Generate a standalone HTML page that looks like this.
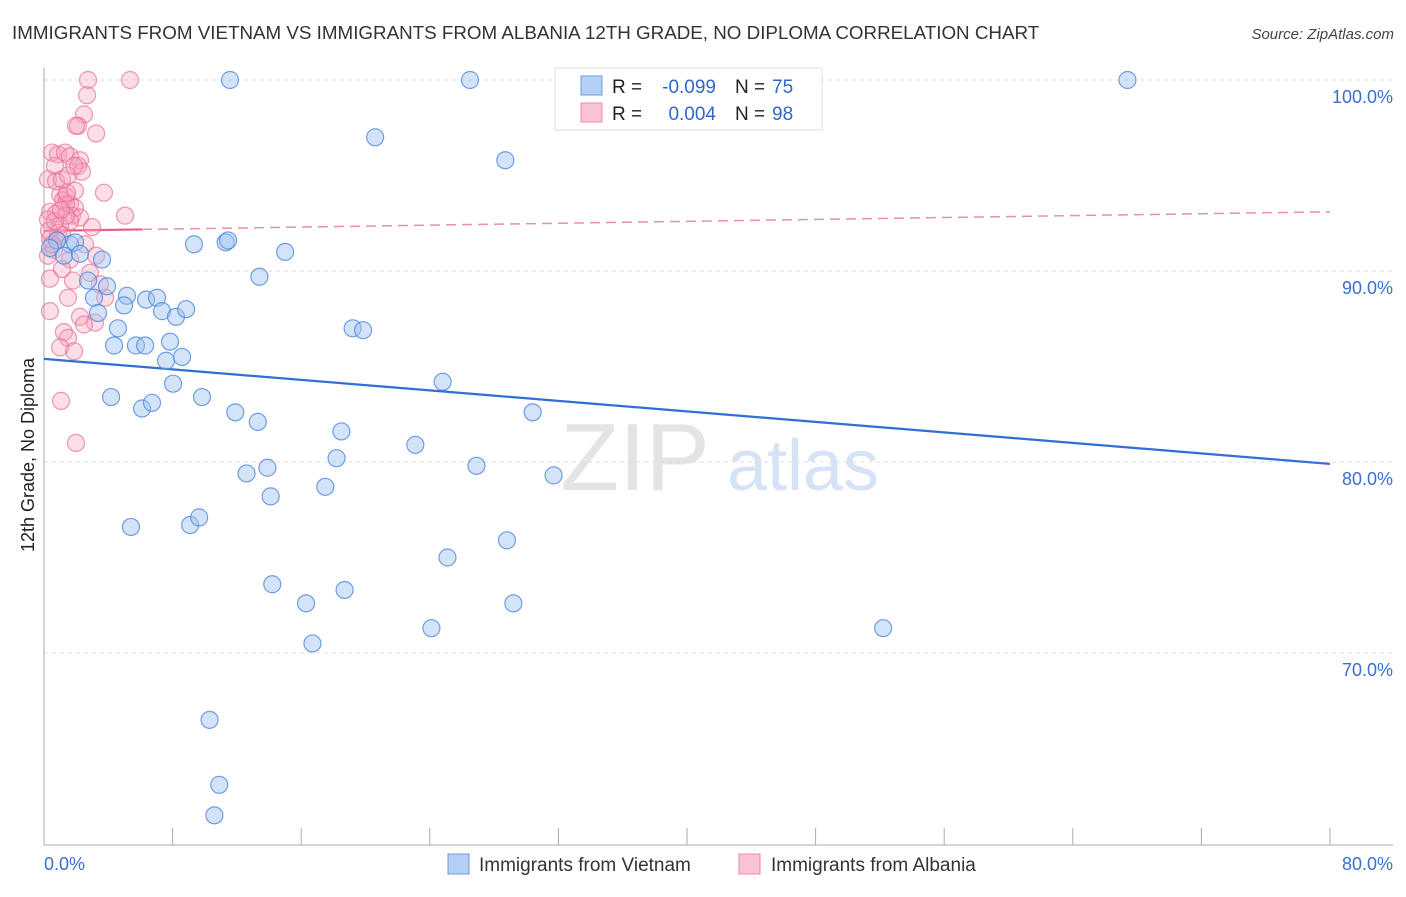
<!DOCTYPE html>
<html><head><meta charset="utf-8"><style>
body{margin:0;background:#fff;font-family:"Liberation Sans",sans-serif;}
svg text{font-family:"Liberation Sans",sans-serif;}
</style></head><body>
<svg id="chart" width="1406" height="892" xmlns="http://www.w3.org/2000/svg">
<text x="12" y="39" font-size="18.8" fill="#333">IMMIGRANTS FROM VIETNAM VS IMMIGRANTS FROM ALBANIA 12TH GRADE, NO DIPLOMA CORRELATION CHART</text>
<text x="1394" y="39" font-size="15" fill="#444" text-anchor="end" font-style="italic">Source: ZipAtlas.com</text>
<text transform="translate(34,455) rotate(-90)" font-size="18" fill="#222" text-anchor="middle">12th Grade, No Diploma</text>
<g>
<text x="635" y="490" font-size="96" fill="#e4e4e4" text-anchor="middle" font-family="Liberation Serif">ZIP</text>
<text x="803" y="490" font-size="72" fill="#d6e3f5" text-anchor="middle">atlas</text>
</g>
<g id="grid"></g><g id="axes"></g><g id="trends"></g><g id="pts"></g>
<g>
<rect x="555" y="68" width="267" height="62" fill="#fff" stroke="#ddd"/>
<rect x="581" y="76" width="21" height="19" fill="#b5d0f5" stroke="#6f9be0"/>
<rect x="581" y="103" width="21" height="19" fill="#fac3d3" stroke="#ec8aa8"/>
<text x="612" y="93" font-size="19" fill="#222">R =</text>
<text x="716" y="93" font-size="19" fill="#2f67c9" text-anchor="end">-0.099</text>
<text x="735" y="93" font-size="19" fill="#222">N =</text>
<text x="772" y="93" font-size="19" fill="#2f67c9">75</text>
<text x="612" y="120" font-size="19" fill="#222">R =</text>
<text x="716" y="120" font-size="19" fill="#2f67c9" text-anchor="end">0.004</text>
<text x="735" y="120" font-size="19" fill="#222">N =</text>
<text x="772" y="120" font-size="19" fill="#2f67c9">98</text>
</g>
<g>
<rect x="448" y="854" width="21" height="20" fill="#b5d0f5" stroke="#6f9be0"/>
<text x="479" y="871" font-size="19" fill="#333">Immigrants from Vietnam</text>
<rect x="739" y="854" width="21" height="20" fill="#fac3d3" stroke="#ec8aa8"/>
<text x="771" y="871" font-size="19" fill="#333">Immigrants from Albania</text>
</g>
</svg>
<script>
const xTicks=[0,8,16,24,32,40,48,56,64,72,80];
const yTicks=[100,90,80,70];
const yTickLabels=["100.0%","90.0%","80.0%","70.0%"];
const xEndLabels=["0.0%","80.0%"];
const vietX=[11.57,26.5,67.4,43.3,20.6,28.7,9.33,11.3,11.45,15.0,13.4,1.62,1.93,0.81,0.37,1.24,2.24,3.61,2.74,3.92,3.11,5.16,4.98,6.35,7.03,7.34,8.21,8.84,4.6,3.36,4.36,5.72,6.29,7.84,7.59,8.59,19.2,19.85,8.03,4.17,6.1,6.72,9.83,11.9,13.3,18.5,23.1,24.8,30.4,18.2,13.9,12.6,26.9,31.7,14.1,17.5,5.41,9.09,9.65,25.1,28.8,14.2,16.3,18.7,29.2,24.1,16.7,52.2,10.3,10.9,10.6];
const vietY=[100,100,100,100,97.0,95.8,91.4,91.5,91.6,91.0,89.7,91.4,91.5,91.6,91.2,90.8,90.9,90.6,89.5,89.2,88.6,88.7,88.2,88.5,88.6,87.9,87.6,88.0,87.0,87.8,86.1,86.1,86.1,86.3,85.3,85.5,87.0,86.9,84.1,83.4,82.8,83.1,83.4,82.6,82.1,81.6,80.9,84.2,82.6,80.2,79.7,79.4,79.8,79.3,78.2,78.7,76.6,76.7,77.1,75.0,75.9,73.6,72.6,73.3,72.6,71.3,70.5,71.3,66.5,63.1,61.5];
const albX=[2.74,5.35,2.68,2.49,2.12,1.99,3.24,0.5,0.87,1.31,1.62,2.24,2.12,0.68,2.36,0.25,0.75,3.73,1.0,1.37,1.18,1.62,1.93,1.37,0.37,0.75,1.74,2.24,5.04,0.25,1.0,1.62,2.99,0.87,0.37,1.12,2.55,0.62,0.25,1.62,3.24,1.12,2.86,0.37,1.8,3.48,1.49,3.8,0.37,2.24,3.17,2.49,1.24,1.49,1.0,1.87,1.06,1.99,1.37,1.93,1.43,1.12,0.81,0.5,0.31,0.68,1.06,1.49,1.87];
const albY=[100,100,99.2,98.2,97.6,97.6,97.2,96.2,96.1,96.2,96.0,95.8,95.5,95.5,95.2,94.8,94.7,94.1,94.0,93.9,93.7,93.5,93.3,93.5,93.1,93.0,92.9,92.8,92.9,92.7,92.4,92.6,92.3,92.0,91.7,91.9,91.4,91.1,90.8,90.6,90.8,90.1,89.9,89.6,89.5,89.3,88.6,88.6,87.9,87.6,87.3,87.2,86.8,86.5,86.0,85.8,83.2,81.0,92.9,94.2,94.1,94.8,91.6,91.4,92.1,92.6,93.2,95.0,95.5];
const vietTrend=[85.4,79.9];
const albTrend=[92.1,93.1];
const albSolidEnd=6.1;

const NS="http://www.w3.org/2000/svg";
const X=v=>44+v*(1286/80);
const Y=v=>80+(100-v)*19.1;
function mk(tag,attrs,parent){const e=document.createElementNS(NS,tag);for(const k in attrs)e.setAttribute(k,attrs[k]);document.getElementById(parent).appendChild(e);return e;}

yTicks.forEach((t,i)=>{
  const l=mk('line',{x1:44,x2:1393,y1:Y(t),y2:Y(t),stroke:'#ddd','stroke-dasharray':'4,4'},'grid');
  
  
  const tx=mk('text',{x:1393,y:Y(t)+23,'font-size':18,fill:'#3a6fd0','text-anchor':'end'},'grid');
  tx.textContent=yTickLabels[i];
  
  
});
const ya=mk('line',{x1:44,x2:44,y1:68,y2:845,stroke:'#aaa'},'axes');


const xa=mk('line',{x1:44,x2:1393,y1:845,y2:845,stroke:'#aaa'},'axes');


xTicks.forEach(t=>{
  const l=mk('line',{x1:X(t),x2:X(t),y1:828,y2:845,stroke:'#aaa'},'axes');
  
  
});
[[0,'start',xEndLabels[0],44],[80,'end',xEndLabels[1],1393]].forEach(a=>{
  const tx=mk('text',{x:a[3],y:870,'font-size':18,fill:'#3a6fd0','text-anchor':a[1]},'axes');
  tx.textContent=a[2];
  
  
});

function dot(x,y,fill,stroke,name){
  const c=mk('circle',{cx:X(x),cy:Y(y),r:8.5,fill:fill,stroke:stroke,'stroke-width':1.2},'pts');
  
  
}
albX.forEach((x,i)=>dot(x,albY[i],'rgba(246,160,186,0.35)','rgba(232,110,148,0.7)','albania-point'));
vietX.forEach((x,i)=>dot(x,vietY[i],'rgba(160,195,240,0.45)','rgba(80,135,220,0.8)','vietnam-point'));

const vt=mk('line',{x1:X(0),y1:Y(vietTrend[0]),x2:X(80),y2:Y(vietTrend[1]),stroke:'#2f6fd6','stroke-width':2.2},'trends');


const aMid=albTrend[0]+(albTrend[1]-albTrend[0])*albSolidEnd/80;
const at1=mk('line',{x1:X(0),y1:Y(albTrend[0]),x2:X(albSolidEnd),y2:Y(aMid),stroke:'#e8608a','stroke-width':2.2},'trends');


const at2=mk('line',{x1:X(albSolidEnd),y1:Y(aMid),x2:X(80),y2:Y(albTrend[1]),stroke:'#e890aa','stroke-width':1.5,'stroke-dasharray':'10,6'},'trends');


</script>
</body></html>
